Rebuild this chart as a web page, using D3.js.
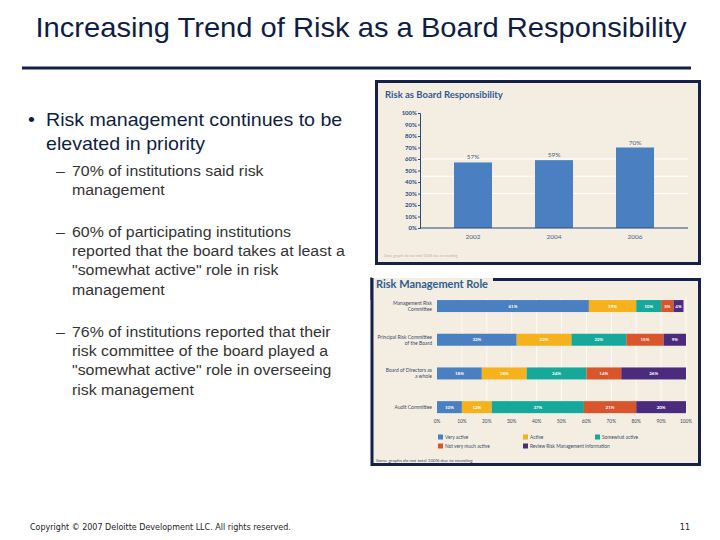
<!DOCTYPE html>
<html>
<head>
<meta charset="utf-8">
<script src="https://cdn.jsdelivr.net/npm/d3@7"></script>
<style>
  html, body { margin: 0; padding: 0; background: #fff; }
  svg { display: block; }
</style>
</head>
<body>
<div id="app"></div>
<script>
// top chart: risk as board responsibility
const years = ['2002', '2004', '2006'];
const boardShare = [57, 59, 70];
const yTicks = [0, 10, 20, 30, 40, 50, 60, 70, 80, 90, 100];
const yGrid = [30, 45, 60];

// bottom chart: risk management role (stacked %)
const roles = ['Management Risk Committee', 'Principal Risk Committee of the Board', 'Board of Directors as a whole', 'Audit Committee'];
const roleLines = [['Management Risk', 'Committee'], ['Principal Risk Committee', 'of the Board'], ['Board of Directors as', 'a whole'], ['Audit Committee']];
const levels = ['Very active', 'Active', 'Somewhat active', 'Not very much active', 'Review Risk Management information'];
const veryActive = [61, 32, 18, 10];
const active = [19, 22, 18, 12];
const somewhatActive = [10, 22, 24, 37];
const notVeryActive = [5, 15, 14, 21];
const reviewInfo = [4, 9, 26, 20];
const xTicks = [0, 10, 20, 30, 40, 50, 60, 70, 80, 90, 100];

const levelColors = ['#4a80c2', '#f6b21c', '#16a89b', '#d9552b', '#4b2c7c'];

const bulletMain = ['Risk management continues to be', 'elevated in priority'];
const subBullets = [
    ['70% of institutions said risk', 'management'],
    ['60% of participating institutions', 'reported that the board takes at least a', '"somewhat active" role in risk', 'management'],
    ['76% of institutions reported that their', 'risk committee of the board played a', '"somewhat active" role in overseeing', 'risk management']
];

const svg = d3.select('#app')
    .append('svg')
    .attr('width', 720)
    .attr('height', 540);

// slide text is a little wider than plain Arial
const stretch = 1.06;
const place = (x, y) => 'translate(' + x + ',' + y + ') scale(' + stretch + ',1)';

// ---- slide title ----
svg.append('text')
    .attr('transform', place(361, 37))
    .attr('text-anchor', 'middle')
    .style('font-family', '"Liberation Sans", Arial, sans-serif')
    .style('font-size', '27.5px')
    .style('fill', '#0f1d45')
    .text('Increasing Trend of Risk as a Board Responsibility');

svg.append('line')
    .attr('x1', 22).attr('x2', 691)
    .attr('y1', 68).attr('y2', 68)
    .style('stroke', '#15204a')
    .style('stroke-width', 3);

// ---- bullet text ----
const txt = svg.append('g')
    .style('font-family', '"Liberation Sans", Arial, sans-serif');

txt.append('text')
    .attr('transform', place(28, 126))
    .style('font-size', '18.5px')
    .style('fill', '#0f1d45')
    .text('•');

txt.selectAll('text.main')
    .data(bulletMain)
    .enter()
    .append('text')
    .attr('class', 'main')
    .attr('transform', (d, i) => place(46, 126 + i * 24))
    .style('font-size', '18.5px')
    .style('fill', '#0f1d45')
    .text(d => d);

const subStart = [176, 237, 337];
subBullets.forEach((lines, k) => {
    txt.append('text')
        .attr('transform', place(56, subStart[k]))
        .style('font-size', '15px')
        .style('fill', '#333')
        .text('–');
    txt.selectAll('text.sub' + k)
        .data(lines)
        .enter()
        .append('text')
        .attr('class', 'sub' + k)
        .attr('transform', (d, i) => place(72, subStart[k] + i * 19.2))
        .style('font-size', '15px')
        .style('fill', '#333')
        .text(d => d);
});

// ---- top chart ----
const topG = svg.append('g')
    .style('font-family', 'Lato, "Open Sans", sans-serif');

topG.append('rect')
    .attr('x', 376.5).attr('y', 81.5)
    .attr('width', 323).attr('height', 182)
    .style('fill', '#f3eee1')
    .style('stroke', '#16204d')
    .style('stroke-width', 3);

topG.append('text')
    .attr('x', 385).attr('y', 98)
    .style('font-size', '9.5px')
    .style('font-weight', 'bold')
    .style('fill', '#34598f')
    .text('Risk as Board Responsibility');

const y = d3.scaleLinear().domain([0, 100]).range([228, 113]);
const x = d3.scalePoint().domain(years).range([473, 635]);
const barW = 38;

topG.selectAll('line.grid')
    .data(yGrid)
    .enter()
    .append('line')
    .attr('class', 'grid')
    .attr('x1', 421).attr('x2', 688)
    .attr('y1', d => y(d)).attr('y2', d => y(d))
    .style('stroke', '#ffffff')
    .style('stroke-width', 1.2);

topG.selectAll('rect.bar')
    .data(boardShare)
    .enter()
    .append('rect')
    .attr('class', 'bar')
    .attr('x', (d, i) => x(years[i]) - barW / 2)
    .attr('y', d => y(d))
    .attr('width', barW)
    .attr('height', d => y(0) - y(d))
    .style('fill', '#4a80c2');

topG.selectAll('text.val')
    .data(boardShare)
    .enter()
    .append('text')
    .attr('class', 'val')
    .attr('x', (d, i) => x(years[i]))
    .attr('y', d => y(d) - 3)
    .attr('text-anchor', 'middle')
    .style('font-size', '6.5px')
    .style('fill', '#4a5f85')
    .text(d => d + '%');

const yAxis = topG.append('g')
    .attr('transform', 'translate(420,0)')
    .call(d3.axisLeft(y).tickValues(yTicks).tickSize(2).tickFormat(d => d + '%'));
yAxis.select('.domain').style('stroke', '#2d4a7f');
yAxis.selectAll('.tick line').style('stroke', '#2d4a7f');
yAxis.selectAll('.tick text')
    .attr('x', -3)
    .style('font-family', 'Lato, sans-serif')
    .style('font-size', '6px')
    .style('font-weight', 'bold')
    .style('fill', '#2d4a7f');

const xAxis = topG.append('g')
    .attr('transform', 'translate(0,' + y(0) + ')');
xAxis.append('line')
    .attr('x1', 420).attr('x2', 688)
    .style('stroke', '#2d4a7f')
    .style('stroke-width', 1.2);
xAxis.selectAll('text')
    .data(years)
    .enter()
    .append('text')
    .attr('x', d => x(d))
    .attr('y', 11)
    .attr('text-anchor', 'middle')
    .style('font-size', '6.5px')
    .style('fill', '#4a5f85')
    .text(d => d);

topG.append('text')
    .attr('x', 384).attr('y', 257)
    .style('font-size', '3.5px')
    .style('fill', '#b8b6ae')
    .text('Some graphs do not total 100% due to rounding');

// ---- bottom chart ----
const bot = svg.append('g')
    .style('font-family', 'Lato, "Open Sans", sans-serif');

bot.append('rect')
    .attr('x', 372).attr('y', 278)
    .attr('width', 328).attr('height', 186)
    .style('fill', '#f3eee1');
bot.append('path')
    .attr('d', 'M493,279.5 H699.5 V464.5 H372 V278')
    .style('fill', 'none')
    .style('stroke', '#16204d')
    .style('stroke-width', 3);
bot.append('line')
    .attr('x1', 371).attr('x2', 371)
    .attr('y1', 277).attr('y2', 300)
    .style('stroke', '#16204d')
    .style('stroke-width', 1);

bot.append('text')
    .attr('x', 376).attr('y', 288)
    .style('font-size', '11px')
    .style('font-weight', 'bold')
    .style('fill', '#2f5c92')
    .text('Risk Management Role');

const bx = d3.scaleLinear().domain([0, 100]).range([437, 686]);
const by = d3.scaleBand().domain(roles).range([289.2, 424]).paddingInner(0.644).paddingOuter(0.322);

bot.selectAll('line.vgrid')
    .data(xTicks.slice(1))
    .enter()
    .append('line')
    .attr('class', 'vgrid')
    .attr('x1', d => bx(d)).attr('x2', d => bx(d))
    .attr('y1', 298).attr('y2', 415)
    .style('stroke', '#ffffff')
    .style('stroke-width', 0.8);

const series = [veryActive, active, somewhatActive, notVeryActive, reviewInfo];
const rows = roles.map((r, i) => {
    const o = { role: r };
    levels.forEach((l, k) => { o[l] = series[k][i]; });
    return o;
});
const stacked = d3.stack().keys(levels)(rows);

const layer = bot.selectAll('g.layer')
    .data(stacked)
    .enter()
    .append('g')
    .attr('class', 'layer')
    .style('fill', (d, i) => levelColors[i]);

layer.selectAll('rect')
    .data(d => d)
    .enter()
    .append('rect')
    .attr('x', d => bx(d[0]))
    .attr('y', d => by(d.data.role))
    .attr('width', d => bx(d[1]) - bx(d[0]))
    .attr('height', by.bandwidth());

layer.selectAll('text')
    .data(d => d.map(p => ({ p: p, key: d.key })))
    .enter()
    .append('text')
    .attr('x', d => (bx(d.p[0]) + bx(d.p[1])) / 2)
    .attr('y', d => by(d.p.data.role) + by.bandwidth() / 2 + 1.6)
    .attr('text-anchor', 'middle')
    .style('font-size', '4.5px')
    .style('font-weight', 'bold')
    .style('fill', '#ffffff')
    .text(d => d.p.data[d.key] + '%');

roles.forEach((r, i) => {
    const lines = roleLines[i];
    const cy = by(r) + by.bandwidth() / 2;
    bot.selectAll('text.cat' + i)
        .data(lines)
        .enter()
        .append('text')
        .attr('class', 'cat' + i)
        .attr('x', 432)
        .attr('y', (d, j) => cy + 1.8 + (j - (lines.length - 1) / 2) * 6)
        .attr('text-anchor', 'end')
        .style('font-size', '5px')
        .style('fill', '#3b4a6b')
        .text(d => d);
});

bot.selectAll('text.xt')
    .data(xTicks)
    .enter()
    .append('text')
    .attr('class', 'xt')
    .attr('x', d => bx(d))
    .attr('y', 423)
    .attr('text-anchor', 'middle')
    .style('font-size', '4.8px')
    .style('fill', '#3b4a6b')
    .text(d => d + '%');

// legend
const legPos = [[438, 437], [523, 437], [595, 437], [438, 446], [523, 446]];
const leg = bot.selectAll('g.leg')
    .data(levels)
    .enter()
    .append('g')
    .attr('class', 'leg')
    .attr('transform', (d, i) => 'translate(' + legPos[i][0] + ',' + legPos[i][1] + ')');
leg.append('rect')
    .attr('x', 0).attr('y', -2.5)
    .attr('width', 5).attr('height', 5)
    .style('fill', (d, i) => levelColors[i]);
leg.append('text')
    .attr('x', 7).attr('y', 1.7)
    .style('font-size', '4.8px')
    .style('fill', '#3b4a6b')
    .text(d => d);

bot.append('text')
    .attr('x', 376).attr('y', 462)
    .style('font-size', '4.6px')
    .style('fill', '#3b4a6b')
    .text('Some graphs do not total 100% due to rounding');

// ---- footer ----
const foot = svg.append('g')
    .style('font-family', '"DejaVu Sans", Verdana, sans-serif')
    .style('font-size', '8px')
    .style('fill', '#222');
foot.append('text')
    .attr('x', 30).attr('y', 530)
    .text('Copyright © 2007 Deloitte Development LLC. All rights reserved.');
foot.append('text')
    .attr('x', 690).attr('y', 530)
    .attr('text-anchor', 'end')
    .text('11');
</script>
</body>
</html>
